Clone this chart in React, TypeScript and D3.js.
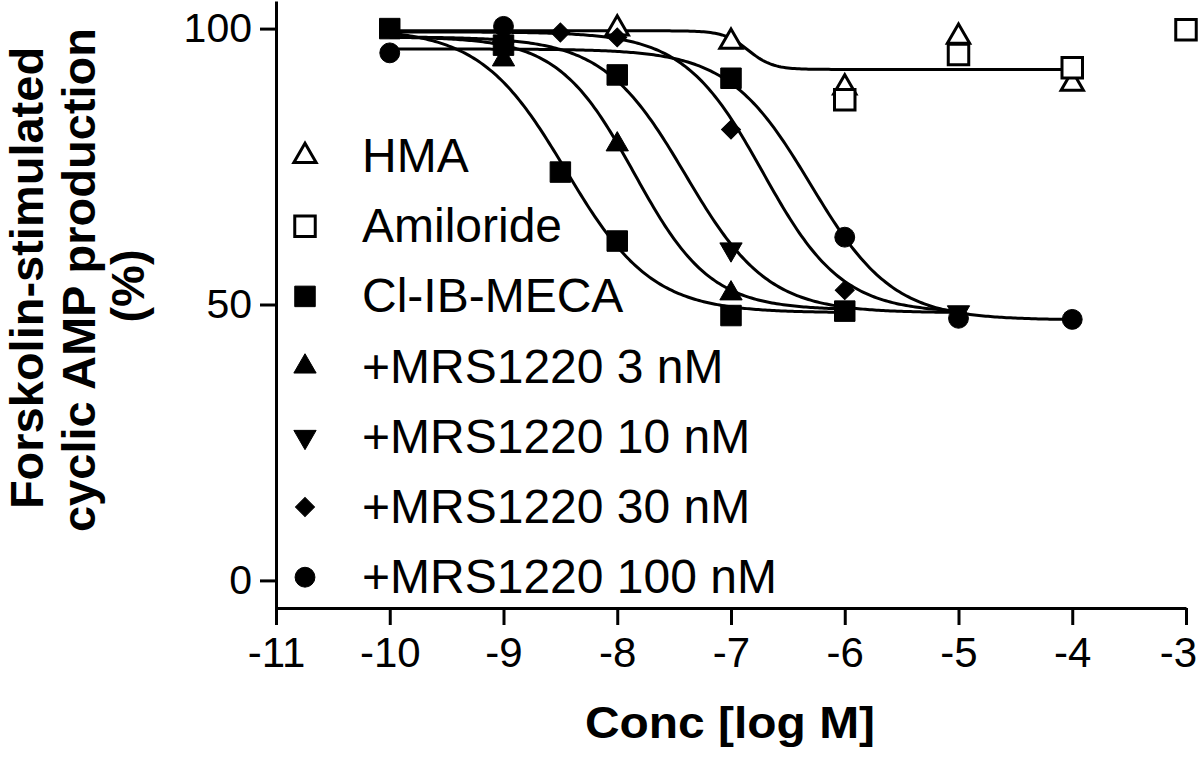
import React from "react";
import * as d3 from "d3";

const W = 1200;
const H = 759;
const FONT = "'Liberation Sans', Arial, Helvetica, sans-serif";

const xTicks = [-11, -10, -9, -8, -7, -6, -5, -4, -3];
const yTicks = [0, 50, 100];

const legendNames = [
  "HMA",
  "Amiloride",
  "Cl-IB-MECA",
  "+MRS1220 3 nM",
  "+MRS1220 10 nM",
  "+MRS1220 30 nM",
  "+MRS1220 100 nM",
];
const legendShapes = ["triangle", "square", "square", "triangle", "triangleDown", "diamond", "circle"];
const legendFilled = [false, false, true, true, true, true, true];

// measured points [log M, %]
const hmaPoints = [[-8, 100], [-7, 97.6], [-6, 89.3], [-5, 98.5], [-4, 90]];
const amiloridePoints = [[-6, 87.1], [-5, 95.3], [-4, 92.9], [-3, 99.8]];
const clibPoints = [[-10, 100], [-9, 97], [-8.5, 74], [-8, 61.5], [-7, 48], [-6, 48.8], [-8, 91.6], [-7, 91]];
const mrs3Points = [[-9, 94.4], [-8, 79], [-7, 52]];
const mrs10Points = [[-9, 96.5], [-7, 60], [-5, 48.6]];
const mrs30Points = [[-9, 98], [-8.5, 99.3], [-8, 98.4], [-7, 81.7], [-6, 52.6]];
const mrs100Points = [[-10, 95.6], [-9, 100.4], [-6, 62.2], [-5, 47.5], [-4, 47.3]];

// fitted sigmoid curves: [top, bottom, logIC50, hill, from, to]
const hmaFit = [99.6, 92.6, -6.85, 4, -10, -4];
const clibFit = [100, 48.5, -8.45, 1.15, -10, -6];
const mrs3Fit = [98.5, 49, -7.85, 1.3, -10, -6];
const mrs10Fit = [98.5, 48.5, -7.4, 1.2, -10, -5];
const mrs30Fit = [99.4, 48.5, -6.72, 1.25, -10, -5];
const mrs100Fit = [96.3, 47.2, -6.3, 1.2, -10, -4];

const pointSets = [hmaPoints, amiloridePoints, clibPoints, mrs3Points, mrs10Points, mrs30Points, mrs100Points];
const fits = [hmaFit, clibFit, mrs3Fit, mrs10Fit, mrs30Fit, mrs100Fit];

const x = d3.scaleLinear().domain([-11, -3]).range([276, 1186]);
const y = d3.scaleLinear().domain([-5, 105]).range([608, 1]);

function symbolPath(shape: string) {
  switch (shape) {
    case "square":
      return d3.symbol(d3.symbolSquare, 420)();
    case "circle":
      return d3.symbol(d3.symbolCircle, 310)();
    case "diamond":
      return d3.symbol(d3.symbolSquare, 180)();
    default:
      return d3.symbol(d3.symbolTriangle, 215)();
  }
}

function symbolRotate(shape: string) {
  if (shape === "diamond") return 45;
  if (shape === "triangleDown") return 180;
  return 0;
}

function Marker({ shape, filled, cx, cy }: { shape: string; filled: boolean; cx: number; cy: number }) {
  return (
    <path
      d={symbolPath(shape) || ""}
      transform={`translate(${cx},${cy}) rotate(${symbolRotate(shape)})`}
      fill={filled ? "#000" : "#fff"}
      stroke="#000"
      strokeWidth={filled ? 1 : 3}
      strokeLinejoin="miter"
    />
  );
}

function fitLine(fit: number[]) {
  const [top, bottom, ic50, hill, from, to] = fit;
  const xs = d3.range(from, to + 0.001, 0.02);
  const line = d3
    .line<number>()
    .x((v) => x(v))
    .y((v) => y(bottom + (top - bottom) / (1 + Math.pow(10, (v - ic50) * hill))));
  return line(xs) || "";
}

export default function App() {
  const xAxisRef = React.useRef<SVGGElement>(null);
  const yAxisRef = React.useRef<SVGGElement>(null);

  React.useEffect(() => {
    const gx = d3.select(xAxisRef.current);
    gx.selectAll("*").remove();
    gx.call(
      d3.axisBottom(x).tickValues(xTicks).tickSize(17).tickSizeOuter(0).tickPadding(12).tickFormat(d3.format("d"))
    );
    gx.attr("font-family", FONT).attr("font-size", 42);
    gx.selectAll("path, line").attr("stroke", "#000").attr("stroke-width", 3);
    gx.selectAll("text")
      .attr("fill", "#000")
      .text((d: any) => String(d).replace("−", "-"))
      // last label sits against the right edge, as in the original
      .attr("dx", (d: any) => (d === -3 ? -8 : 0));

    const gy = d3.select(yAxisRef.current);
    gy.selectAll("*").remove();
    gy.call(d3.axisLeft(y).tickValues(yTicks).tickSize(16).tickSizeOuter(0).tickPadding(8));
    gy.attr("font-family", FONT).attr("font-size", 41);
    gy.selectAll("path, line").attr("stroke", "#000").attr("stroke-width", 3);
    gy.selectAll("text").attr("fill", "#000");
  }, []);

  return (
    <div style={{ position: "absolute", left: 0, top: 0 }}>
      <svg width={W} height={H} style={{ display: "block", background: "#fff" }}>
        <rect width={W} height={H} fill="#fff" />
        <g ref={xAxisRef} transform={`translate(0,${y(-5)})`} />
        <g ref={yAxisRef} transform={`translate(${x(-11)},0)`} />

        {fits.map((f, i) => (
          <path key={"fit" + i} d={fitLine(f)} fill="none" stroke="#000" strokeWidth={3} />
        ))}

        {pointSets.map((pts, si) =>
          pts.map((p, pi) => (
            <Marker
              key={`m${si}-${pi}`}
              shape={legendShapes[si]}
              filled={legendFilled[si]}
              cx={x(p[0])}
              cy={y(p[1])}
            />
          ))
        )}

        <g fontFamily={FONT} fontSize={48} fill="#000">
          {legendNames.map((name, i) => (
            <g key={name} transform={`translate(0,${172 + i * 70.2})`}>
              <Marker shape={legendShapes[i]} filled={legendFilled[i]} cx={305} cy={-16} />
              <text x={362} y={0}>
                {name}
              </text>
            </g>
          ))}
        </g>

        <g fontFamily={FONT} fontWeight="bold" fontSize={47} fill="#000" textAnchor="middle">
          <text transform="translate(43,278) rotate(-90)">Forskolin-stimulated</text>
          <text transform="translate(95,280) rotate(-90)">cyclic AMP production</text>
          <text transform="translate(144,286) rotate(-90)">(%)</text>
        </g>

        <text
          x={730}
          y={738}
          fontFamily={FONT}
          fontWeight="bold"
          fontSize={44}
          textAnchor="middle"
          textLength={290}
          lengthAdjust="spacingAndGlyphs"
        >
          Conc [log M]
        </text>
      </svg>
    </div>
  );
}
